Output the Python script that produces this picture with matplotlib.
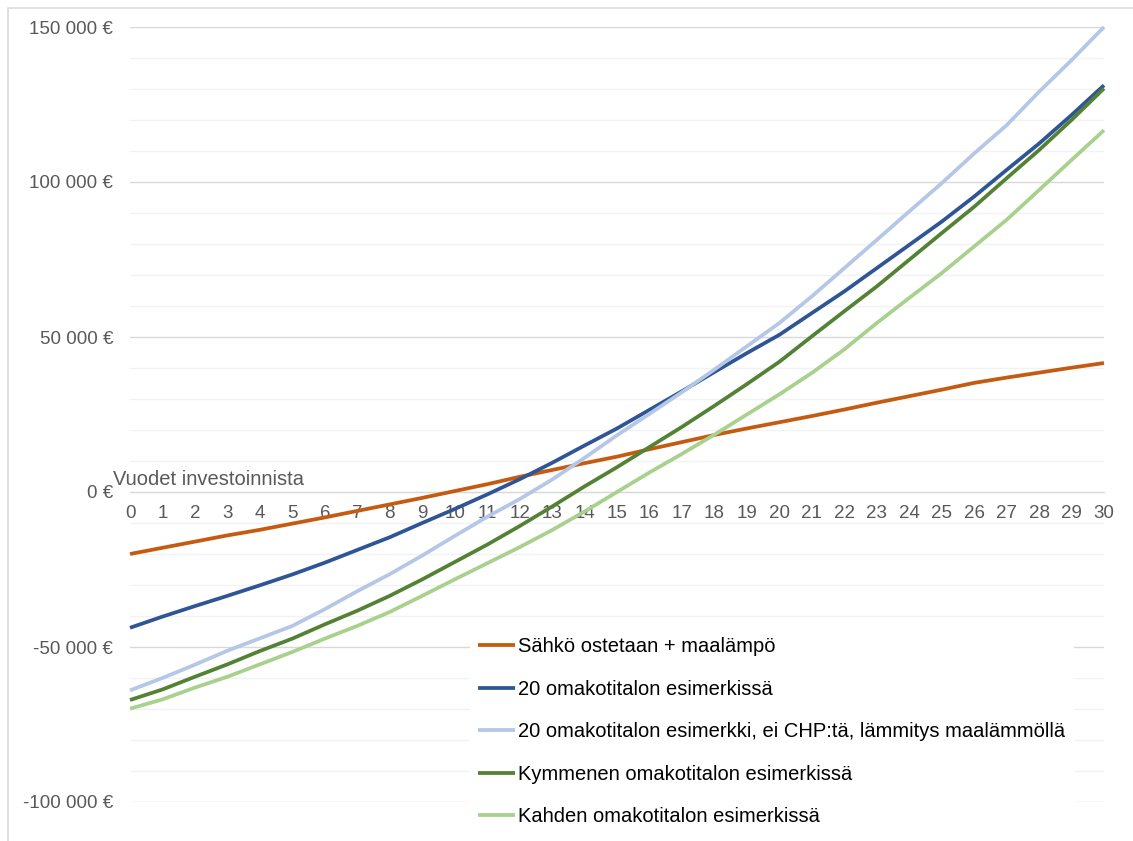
import matplotlib.pyplot as plt
from matplotlib.patches import Rectangle
from matplotlib.ticker import MultipleLocator, FuncFormatter

# Data (EUR, cumulative per year)
years = list(range(0, 31))

sahko_maalampo = [-20000, -18000, -16000, -14000, -12200, -10200, -8200, -6100, -4000, -1900,
                  300, 2500, 4900, 7100, 9300, 11400, 13800, 16100, 18400, 20500,
                  22500, 24500, 26600, 28800, 30900, 33000, 35200, 36900, 38500, 40100, 41600]

omakoti_20 = [-43800, -40200, -36800, -33500, -30100, -26600, -22800, -18700, -14600, -10000,
              -5500, -800, 4100, 9400, 15000, 20500, 26500, 32500, 38700, 44800,
              50700, 57700, 64700, 72200, 79700, 87200, 95300, 103900, 112400, 121600, 131200]

omakoti_20_ei_chp = [-64000, -60000, -55700, -51200, -47200, -43200, -37800, -32000, -26500, -20500,
                     -14200, -8000, -2300, 4000, 11000, 18300, 25200, 32200, 39500, 47000,
                     54500, 63100, 72200, 81300, 90500, 99600, 109200, 118300, 129100, 139300, 150000]

omakoti_10 = [-67100, -63700, -59600, -55600, -51300, -47300, -42700, -38300, -33500, -28200,
              -22600, -17000, -11000, -4700, 1800, 8000, 14500, 21000, 27800, 34800,
              42000, 50200, 58300, 66300, 74900, 83500, 92000, 101200, 110300, 120000, 130200]

omakoti_2 = [-69900, -66900, -63100, -59600, -55600, -51600, -47300, -43200, -38700, -33500,
             -28200, -23000, -17800, -12300, -6300, 0, 6300, 12300, 18500, 25000,
             31500, 38400, 46000, 54500, 62600, 70600, 79200, 87800, 97400, 107100, 116700]

series_labels = ["Sähkö ostetaan + maalämpö",
                 "20 omakotitalon esimerkissä",
                 "20 omakotitalon esimerkki, ei CHP:tä, lämmitys maalämmöllä",
                 "Kymmenen omakotitalon esimerkissä",
                 "Kahden omakotitalon esimerkissä"]
series_colors = ["#C55A11", "#2F5597", "#B4C7E7", "#548235", "#A9D18E"]

plt.rcParams['font.family'] = ['Liberation Sans', 'DejaVu Sans']

fig = plt.figure(figsize=(11.33, 8.41), dpi=100)
ax = fig.add_axes([130 / 1133, 1 - 802 / 841, 974 / 1133, 775 / 841])

all_series = [sahko_maalampo, omakoti_20, omakoti_20_ei_chp, omakoti_10, omakoti_2]
for values, label, color in zip(all_series, series_labels, series_colors):
    ax.plot(years, values, color=color, lw=2.7, label=label, clip_on=False,
            solid_capstyle='butt', zorder=3)

ax.set_xlim(0, 30)
ax.set_ylim(-100000, 150000)

# gridlines: major every 50 000, minor every 10 000
ax.yaxis.set_major_locator(MultipleLocator(50000))
ax.yaxis.set_minor_locator(MultipleLocator(10000))
ax.grid(axis='y', which='major', color='#D9D9D9', lw=1.0, zorder=0)
ax.grid(axis='y', which='minor', color='#F2F2F2', lw=1.0, zorder=0)
ax.set_axisbelow(True)

ax.yaxis.set_major_formatter(FuncFormatter(lambda v, p: f"{int(v):,} €".replace(",", " ")))
ax.tick_params(axis='y', which='both', length=0, pad=12, labelsize=13.5, labelcolor='#595959')

# x axis sits on the zero line
for side in ['top', 'right', 'left']:
    ax.spines[side].set_visible(False)
ax.spines['bottom'].set_position(('data', 0))
ax.spines['bottom'].set_color('#D9D9D9')
ax.set_xticks(years)
ax.tick_params(axis='x', length=0, pad=9.5, labelsize=13.5, labelcolor='#595959')

ax.annotate("Vuodet investoinnista", xy=(0, 0), xycoords='data',
            xytext=(-12, 9), textcoords='offset points',
            ha='left', va='center', fontsize=14.5, color='#595959')

leg = ax.legend(loc='upper left', bbox_to_anchor=(460 / 1133, 1 - 619 / 841),
                bbox_transform=fig.transFigure, fontsize=14.5, frameon=True,
                facecolor='white', edgecolor='none', framealpha=1, fancybox=False,
                handlelength=1.85, handletextpad=0.15, labelspacing=1.17, borderpad=0.4)
leg.set_zorder(5)

# light outer chart border (top and left visible)
fig.patches.append(Rectangle((8 / 1133, -0.1), 1.0, 1.1 - 8 / 841, transform=fig.transFigure,
                             fill=False, edgecolor='#D9D9D9', lw=1.2))

plt.savefig('out.png', dpi=100)
